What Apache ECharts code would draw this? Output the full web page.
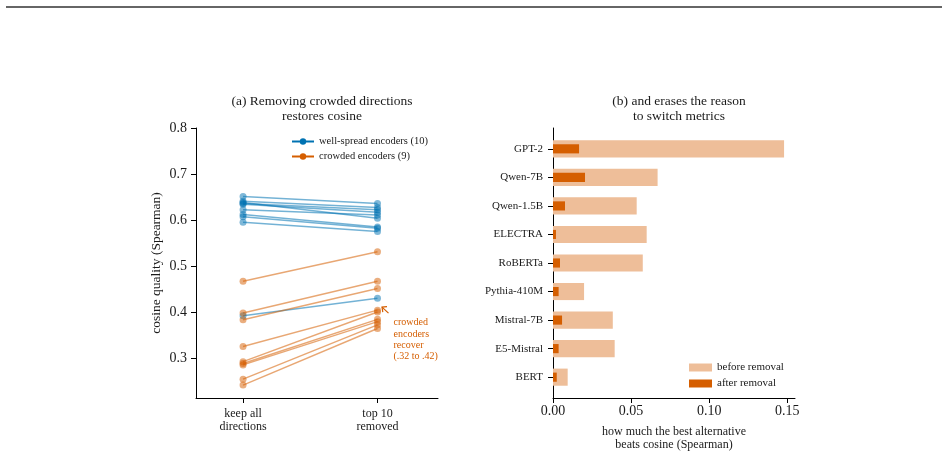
<!DOCTYPE html>
<html>
<head>
<meta charset="utf-8">
<script src="https://cdn.jsdelivr.net/npm/echarts@6/dist/echarts.min.js"></script>
<style>html,body{margin:0;padding:0;background:#fff;}#c{width:948px;height:457px;}</style>
</head>
<body>
<div id="c"></div>
<script>
// ---- data ----
const stageLabels = ['keep all\ndirections', 'top 10\nremoved'];
const spreadBefore = [0.651, 0.641, 0.638, 0.636, 0.634, 0.622, 0.612, 0.607, 0.595, 0.392];
const spreadAfter  = [0.636, 0.627, 0.604, 0.622, 0.617, 0.611, 0.585, 0.582, 0.575, 0.430];
const crowdBefore  = [0.467, 0.398, 0.383, 0.325, 0.292, 0.288, 0.285, 0.254, 0.241];
const crowdAfter   = [0.531, 0.467, 0.451, 0.404, 0.400, 0.384, 0.379, 0.372, 0.364];
const yTicksA = [0.3, 0.4, 0.5, 0.6, 0.7, 0.8];

const models = ['GPT-2', 'Qwen-7B', 'Qwen-1.5B', 'ELECTRA', 'RoBERTa', 'Pythia-410M', 'Mistral-7B', 'E5-Mistral', 'BERT'];
const gapBefore = [0.148, 0.067, 0.0536, 0.060, 0.0575, 0.0199, 0.0383, 0.0395, 0.0094];
const gapAfter  = [0.0167, 0.0205, 0.0077, 0.0019, 0.0045, 0.0036, 0.0058, 0.0036, 0.0024];
const xTicksB = [0, 0.05, 0.10, 0.15];

// ---- style ----
const BLUE = '#0072b2', ORANGE = '#d55e00', LIGHT = '#eebe99';
const FONT = '"Liberation Serif", "DejaVu Serif", serif';
const TXT = '#1a1a1a';

const chart = echarts.init(document.getElementById('c'), null, {renderer: 'canvas'});

const series = [];
const mkLine = (name, color, a, b) => ({
  type: 'line', name, xAxisIndex: 0, yAxisIndex: 0,
  data: [[0, a], [1, b]],
  symbol: 'circle', symbolSize: 7,
  lineStyle: {width: 1.5, color, opacity: 0.55},
  itemStyle: {color, opacity: 0.5},
  emphasis: {disabled: true}, silent: true
});
spreadBefore.forEach((v, i) => series.push(mkLine('well-spread encoders (10)', BLUE, v, spreadAfter[i])));
crowdBefore.forEach((v, i) => series.push(mkLine('crowded encoders (9)', ORANGE, v, crowdAfter[i])));

const barRender = (h) => function (params, api) {
  const idx = api.value(0), val = api.value(1);
  const p0 = api.coord([0, idx]);
  const p1 = api.coord([val, idx]);
  const bh = Math.abs(api.size([0, h])[1]);
  return {type: 'rect', shape: {x: p0[0], y: p0[1] - bh / 2, width: p1[0] - p0[0], height: bh},
          style: {fill: api.visual('color')}};
};
series.push({
  type: 'custom', name: 'before removal', xAxisIndex: 1, yAxisIndex: 1,
  renderItem: barRender(0.6), itemStyle: {color: LIGHT},
  encode: {x: 1, y: 0},
  data: models.map((m, i) => [i, gapBefore[i]])
});
series.push({
  type: 'custom', name: 'after removal', xAxisIndex: 1, yAxisIndex: 1,
  renderItem: barRender(0.32), itemStyle: {color: ORANGE},
  encode: {x: 1, y: 0},
  data: models.map((m, i) => [i, gapAfter[i]])
});

const axLine = {show: true, onZero: false, lineStyle: {color: '#000', width: 1}};

const option = {
  animation: false,
  backgroundColor: '#fff',
  textStyle: {fontFamily: FONT, color: TXT},
  title: [
    {text: '(a) Removing crowded directions\nrestores cosine', left: 317, top: 89, textAlign: 'center',
     textStyle: {fontFamily: FONT, fontSize: 13.5, fontWeight: 'normal', color: TXT, lineHeight: 15}},
    {text: '(b) and erases the reason\nto switch metrics', left: 674, top: 89, textAlign: 'center',
     textStyle: {fontFamily: FONT, fontSize: 13.5, fontWeight: 'normal', color: TXT, lineHeight: 15}}
  ],
  legend: [
    {orient: 'vertical', left: 286, top: 131, itemWidth: 22, itemHeight: 8, itemGap: 4,
     textStyle: {fontFamily: FONT, fontSize: 10.5, color: TXT},
     data: [
       {name: 'well-spread encoders (10)', itemStyle: {color: BLUE, opacity: 1}, lineStyle: {color: BLUE, opacity: 1, width: 2}},
       {name: 'crowded encoders (9)', itemStyle: {color: ORANGE, opacity: 1}, lineStyle: {color: ORANGE, opacity: 1, width: 2}}
     ], selectedMode: false},
    {orient: 'vertical', left: 684, top: 357, itemWidth: 23, itemHeight: 8, itemGap: 5,
     textStyle: {fontFamily: FONT, fontSize: 11, color: TXT},
     data: [{name: 'before removal', icon: 'rect'}, {name: 'after removal', icon: 'rect'}], selectedMode: false}
  ],
  grid: [
    {left: 196, top: 128, width: 242, height: 270, containLabel: false},
    {left: 553, top: 128, width: 242, height: 270, containLabel: false}
  ],
  xAxis: [
    {type: 'value', gridIndex: 0, min: -0.35, max: 1.45, position: 'bottom',
     axisLine: axLine,
     axisTick: {show: true, length: 5, customValues: [0, 1], lineStyle: {color: '#000'}},
     axisLabel: {customValues: [0, 1], formatter: v => stageLabels[Math.round(v)], margin: 9,
                 fontFamily: FONT, fontSize: 12, color: TXT, lineHeight: 13},
     splitLine: {show: false}},
    {type: 'value', gridIndex: 1, min: 0, max: 0.155, position: 'bottom',
     name: 'how much the best alternative\nbeats cosine (Spearman)', nameLocation: 'middle', nameGap: 28,
     nameTextStyle: {fontFamily: FONT, fontSize: 12, color: TXT, lineHeight: 12.5, verticalAlign: 'top'},
     axisLine: axLine,
     axisTick: {show: true, length: 5, customValues: xTicksB, lineStyle: {color: '#000'}},
     axisLabel: {customValues: xTicksB, formatter: v => v.toFixed(2), margin: 6,
                 fontFamily: FONT, fontSize: 14, color: TXT},
     splitLine: {show: false}}
  ],
  yAxis: [
    {type: 'value', gridIndex: 0, min: 0.213, max: 0.8, position: 'left',
     name: 'cosine quality (Spearman)', nameLocation: 'middle', nameGap: 33, nameRotate: 90,
     nameTextStyle: {fontFamily: FONT, fontSize: 13.5, color: TXT},
     axisLine: axLine,
     axisTick: {show: true, length: 5, customValues: yTicksA, lineStyle: {color: '#000'}},
     axisLabel: {customValues: yTicksA, formatter: v => v.toFixed(1), margin: 9,
                 fontFamily: FONT, fontSize: 14, color: TXT},
     splitLine: {show: false}},
    {type: 'value', gridIndex: 1, min: -0.73, max: 8.73, inverse: true, position: 'left',
     axisLine: axLine,
     axisTick: {show: true, length: 5, customValues: models.map((m, i) => i), lineStyle: {color: '#000'}},
     axisLabel: {customValues: models.map((m, i) => i), formatter: v => models[Math.round(v)] || '', margin: 10,
                 fontFamily: FONT, fontSize: 11, color: TXT},
     splitLine: {show: false}}
  ],
  series
};
chart.setOption(option);

// annotation anchored to the data point it points to
const tip = chart.convertToPixel({xAxisIndex: 0, yAxisIndex: 0}, [1, crowdAfter[3]]);
const tx = tip[0] + 16, ty = tip[1] + 7;
const ax = tip[0] + 4.5, ay = tip[1] - 3;
chart.setOption({
  graphic: [
    {type: 'line', shape: {x1: 6, y1: 7, x2: 942, y2: 7}, style: {stroke: '#333', lineWidth: 1.4}, silent: true},
    {type: 'line', shape: {x1: tip[0] + 11, y1: tip[1] + 3, x2: ax, y2: ay},
     style: {stroke: ORANGE, lineWidth: 1.2}, silent: true},
    {type: 'polyline', shape: {points: [[ax + 5, ay - 0.5], [ax, ay], [ax + 0.8, ay + 5]]},
     style: {stroke: ORANGE, lineWidth: 1.2, fill: null}, silent: true},
    {type: 'text', x: tx, y: ty, silent: true,
     style: {text: 'crowded\nencoders\nrecover\n(.32 to .42)', fill: ORANGE, font: '10px ' + FONT, lineHeight: 11.3,
             textAlign: 'left', textVerticalAlign: 'top'}}
  ]
});
</script>
</body>
</html>
